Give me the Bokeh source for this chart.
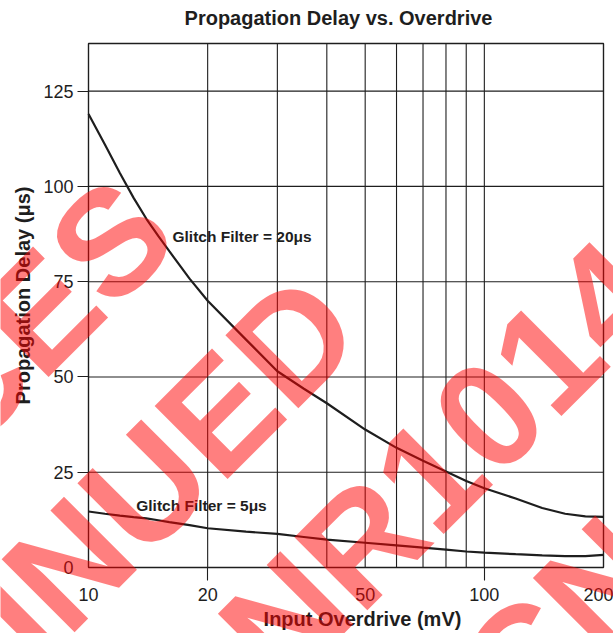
import math

from bokeh.embed import file_html
from bokeh.models import BoxAnnotation, FixedTicker, Label, NumeralTickFormatter, Range1d
from bokeh.plotting import figure
from bokeh.resources import INLINE

# Input overdrive (mV) and propagation delay (us) for two glitch-filter settings
overdrive_mv = [10, 11, 12, 13, 14, 15, 16, 18, 20, 25, 30, 35, 40, 50,
                60, 70, 80, 90, 100, 120, 140, 160, 180, 200]
delay_20us = [119, 111, 103.5, 97, 91.5, 87, 83, 75.8, 70, 59.8, 51.5, 46.9, 43.1, 36.2,
              31.4, 28.0, 25.2, 22.7, 20.8, 18.1, 15.6, 14.1, 13.4, 13.3]
delay_5us = [14.7, 14.1, 13.6, 13.2, 12.9, 12.4, 11.9, 11.1, 10.3, 9.4, 8.8, 8.0, 7.3, 6.5,
             5.8, 5.2, 4.7, 4.2, 3.9, 3.5, 3.2, 3.0, 3.0, 3.3]

x_tick_labels = [10, 20, 50, 100, 200]
x_grid_lines = [10, 20, 30, 40, 50, 60, 70, 80, 90, 100, 200]
y_ticks = [0, 25, 50, 75, 100, 125]

X_MIN, X_MAX = 10, 200
Y_MIN, Y_MAX = 0, 137.5

FONT = "Liberation Sans"
INK = "#1e1e1e"

# Canvas size and the pixel box that holds the chart area.  The plot frame
# covers the whole canvas so the diagonal stamp can run over the margins;
# the ranges are widened so that the chart box lands on these pixels.
W, H = 613, 633
BOX_L, BOX_R, BOX_T, BOX_B = 88, 603, 43, 567

px_per_decade = (BOX_R - BOX_L) / math.log10(X_MAX / X_MIN)
x_start = X_MIN * 10 ** (-BOX_L / px_per_decade)
x_end = X_MAX * 10 ** ((W - BOX_R) / px_per_decade)
px_per_unit = (BOX_B - BOX_T) / (Y_MAX - Y_MIN)
y_start = Y_MIN - (H - BOX_B) / px_per_unit
y_end = Y_MAX + BOX_T / px_per_unit

p = figure(width=W, height=H, x_axis_type="log",
           x_range=Range1d(x_start, x_end), y_range=Range1d(y_start, y_end),
           output_backend="svg", toolbar_location=None, min_border=0)

p.background_fill_color = "white"
p.border_fill_color = "white"
p.outline_line_color = None
p.grid.visible = False

# Grid lines confined to the chart box, plus the box outline
n_x, n_y = len(x_grid_lines), len(y_ticks)
p.segment(x0=x_grid_lines, y0=[Y_MIN] * n_x, x1=x_grid_lines, y1=[Y_MAX] * n_x,
          line_color=INK, line_width=1.1)
p.segment(x0=[X_MIN] * n_y, y0=y_ticks, x1=[X_MAX] * n_y, y1=y_ticks,
          line_color=INK, line_width=1.1)
p.add_layout(BoxAnnotation(left=X_MIN, right=X_MAX, bottom=Y_MIN, top=Y_MAX,
                           fill_alpha=0, line_color=INK, line_alpha=1.0,
                           line_width=1.3, level="underlay"))

# X axis pinned to y = 0: labelled values plus outward marks at 20 and 100
xa = p.xaxis[0]
xa.fixed_location = Y_MIN
xa.ticker = FixedTicker(ticks=x_tick_labels, minor_ticks=[20, 100])
xa.formatter = NumeralTickFormatter(format="0")
xa.axis_line_color = None
xa.major_tick_out = 0
xa.major_tick_in = 0
xa.minor_tick_out = 13
xa.minor_tick_in = 0
xa.minor_tick_line_color = INK
xa.minor_tick_line_width = 1.1
xa.major_label_standoff = 7
xa.major_label_text_font = FONT
xa.major_label_text_font_size = "18px"
xa.major_label_text_color = INK

# Y axis pinned to x = 10: outward marks on every gridline above zero
ya = p.yaxis[0]
ya.fixed_location = X_MIN
ya.ticker = FixedTicker(ticks=y_ticks, minor_ticks=y_ticks[1:])
ya.axis_line_color = None
ya.major_tick_out = 0
ya.major_tick_in = 0
ya.minor_tick_out = 11
ya.minor_tick_in = 0
ya.minor_tick_line_color = INK
ya.minor_tick_line_width = 1.1
ya.major_label_standoff = 4
ya.major_label_text_font = FONT
ya.major_label_text_font_size = "18px"
ya.major_label_text_color = INK

# Curves
p.line(overdrive_mv, delay_20us, line_color=INK, line_width=2.2)
p.line(overdrive_mv, delay_5us, line_color=INK, line_width=2.2)

curve_label_style = dict(text_font=FONT, text_font_size="15.5px",
                         text_font_style="bold", text_color=INK,
                         text_align="left", text_baseline="middle")
p.add_layout(Label(x=16.3, y=86.8, text="Glitch Filter = 20μs", **curve_label_style))
p.add_layout(Label(x=13.2, y=16.2, text="Glitch Filter = 5μs", **curve_label_style))


def screen(cx, cy):
    """Canvas pixel measured from the top-left -> screen units (y measured upward)."""
    return cx, H - cy


heading_style = dict(x_units="screen", y_units="screen", text_font=FONT,
                     text_font_size="20px", text_font_style="bold",
                     text_color=INK, text_align="center", text_baseline="middle")
tx, ty = screen(338, 17)
p.add_layout(Label(x=tx, y=ty, text="Propagation Delay vs. Overdrive", **heading_style))
yx, yy = screen(22, 295)
p.add_layout(Label(x=yx, y=yy, angle=math.pi / 2, text="Propagation Delay (μs)",
                   **heading_style))
xx, xy = screen(362, 618)
p.add_layout(Label(x=xx, y=xy, text="Input Overdrive (mV)", **heading_style))

# Diagonal "discontinued" stamp laid over the whole chart
stamp_lines = [("DEVICES", -87, 438), ("DISCONTINUED", -73, 705),
               ("NR1014", 441, 462), ("PCN", 526, 656)]
for text, cx, cy in stamp_lines:
    sx, sy = screen(cx, cy)
    p.add_layout(Label(x=sx, y=sy, x_units="screen", y_units="screen", text=text,
                       angle=math.pi / 4, text_font=FONT, text_font_size="150px",
                       text_font_style="bold", text_color="#ff0000", text_alpha=0.5,
                       text_align="center", text_baseline="middle", level="overlay"))

open("out.html", "w").write(file_html(p, INLINE))
